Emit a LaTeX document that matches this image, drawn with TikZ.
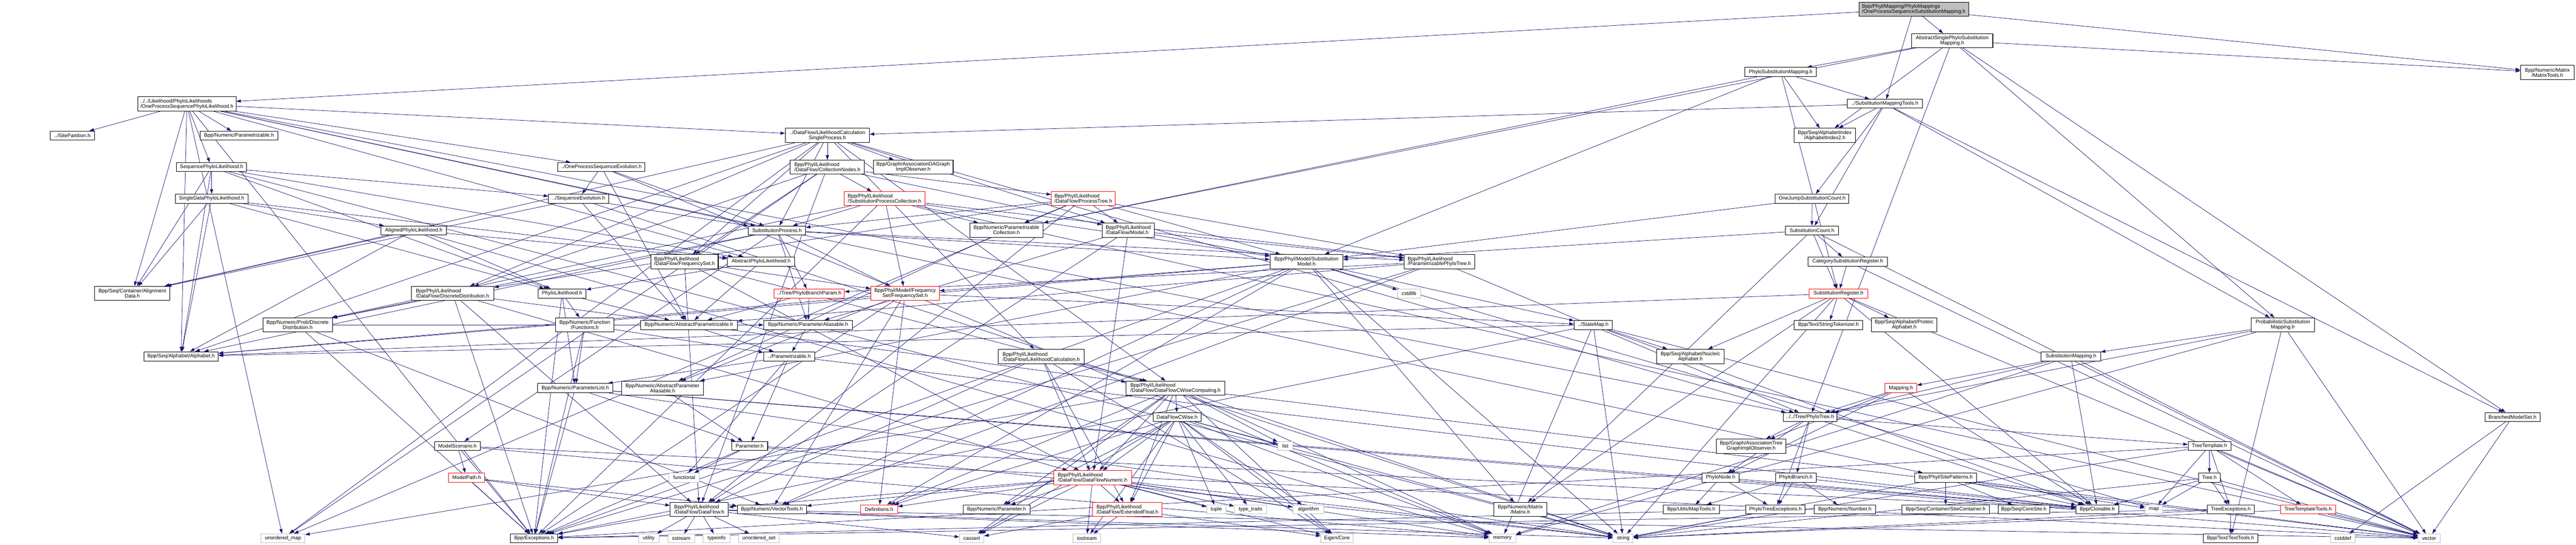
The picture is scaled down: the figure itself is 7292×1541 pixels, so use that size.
\documentclass[tikz,border=0pt]{standalone}
\usepackage{fontspec}
\setmainfont{Liberation Sans}
\usetikzlibrary{arrows.meta,backgrounds}
\definecolor{edgec}{RGB}{25,25,112}
\definecolor{grayc}{RGB}{191,191,191}
\definecolor{redc}{RGB}{255,0,0}
\newcommand{\nfont}{\fontsize{14.5}{14.5}\selectfont}
\newcommand{\bx}[7]{\node[#6,minimum width={(#4-#2)*1pt},minimum height={(#5-#3)*1pt}] (#1) at ({(#2+#4)/2},{(#3+#5)/2}) {#7};}
\tikzset{
  nb/.style={draw=black,line width=1.5pt,fill=white,inner sep=0pt,font=\nfont,align=center,text=black},
  nr/.style={nb,draw=redc},
  ng/.style={nb,draw=grayc},
  lal/.style={align=left},
  ed/.style={draw=edgec,line width=1.1pt,-{Triangle[length=13pt,width=9pt]}}
}
\begin{document}
\begin{tikzpicture}[x=1pt,y=-1pt]
\useasboundingbox (0,0) rectangle (7292,1541);
% rank 0-8
\bx{top}{5262}{6}{5573}{46}{nb,lal,fill=grayc}{Bpp/Phyl/Mapping/PhyloMappings\\/OneProcessSequenceSubstitutionMapping.h}
\bx{asm}{5411}{95}{5641}{135}{nb}{AbstractSinglePhyloSubstitution\\Mapping.h}
\bx{psm}{4939}{191}{5142}{217}{nb}{PhyloSubstitutionMapping.h}
\bx{mtools}{7135}{185}{7287}{225}{nb}{Bpp/Numeric/Matrix\\/MatrixTools.h}
\bx{opspl}{390}{274}{668}{314}{nb,lal}{../../Likelihood/PhyloLikelihoods\\/OneProcessSequencePhyloLikelihood.h}
\bx{smt}{5229}{281}{5442}{306}{nb}{../SubstitutionMappingTools.h}
\bx{sitepart}{142}{371}{268}{396}{nb}{../SitePartition.h}
\bx{nparam}{566}{371}{787}{396}{nb}{Bpp/Numeric/Parametrizable.h}
\bx{lcsp}{2223}{363}{2461}{403}{nb}{../DataFlow/LikelihoodCalculation\\SingleProcess.h}
\bx{ai2}{5079}{363}{5252}{403}{nb}{Bpp/Seq/AlphabetIndex\\/AlphabetIndex2.h}
\bx{spl}{500}{460}{698}{485}{nb}{SequencePhyloLikelihood.h}
\bx{opse}{1579}{460}{1825}{485}{nb}{../OneProcessSequenceEvolution.h}
\bx{colnodes}{2237}{453}{2447}{492}{nb,lal}{Bpp/Phyl/Likelihood\\/DataFlow/CollectionNodes.h}
\bx{adag}{2472}{453}{2698}{492}{nb}{Bpp/Graph/AssociationDAGraph\\ImplObserver.h}
\bx{sdpl}{496}{549}{702}{575}{nb}{SingleDataPhyloLikelihood.h}
\bx{seqevol}{1553}{549}{1723}{575}{nb}{../SequenceEvolution.h}
\bx{spc}{2389}{542}{2619}{581}{nr,lal}{Bpp/Phyl/Likelihood\\/SubstitutionProcessCollection.h}
\bx{ptree}{2976}{542}{3157}{581}{nr,lal}{Bpp/Phyl/Likelihood\\/DataFlow/ProcessTree.h}
\bx{ojsc}{5025}{549}{5234}{575}{nb}{OneJumpSubstitutionCount.h}
\bx{apl}{1079}{639}{1264}{664}{nb}{AlignedPhyloLikelihood.h}
\bx{sp}{2119}{639}{2280}{664}{nb}{SubstitutionProcess.h}
\bx{pcoll}{2745}{631}{2953}{671}{nb}{Bpp/Numeric/Parametrizable\\Collection.h}
\bx{dfmodel}{3120}{631}{3268}{671}{nb,lal}{Bpp/Phyl/Likelihood\\/DataFlow/Model.h}
\bx{sc}{5054}{639}{5204}{664}{nb}{SubstitutionCount.h}
\bx{dffreq}{1842}{720}{2033}{760}{nb,lal}{Bpp/Phyl/Likelihood\\/DataFlow/FrequencySet.h}
\bx{absl}{2059}{727}{2250}{753}{nb}{AbstractPhyloLikelihood.h}
\bx{smodel}{3595}{720}{3801}{760}{nb}{Bpp/Phyl/Model/Substitution\\Model.h}
\bx{ppt}{3975}{720}{4174}{760}{nb,lal}{Bpp/Phyl/Likelihood\\/ParametrizablePhyloTree.h}
\bx{csr}{5118}{727}{5343}{753}{nb}{CategorySubstitutionRegister.h}
% rank 9-12
\bx{aldata}{268}{810}{481}{850}{nb}{Bpp/Seq/Container/Alignment\\Data.h}
\bx{dfdd}{1164}{810}{1398}{850}{nb,lal}{Bpp/Phyl/Likelihood\\/DataFlow/DiscreteDistribution.h}
\bx{pl}{1523}{817}{1659}{843}{nb}{PhyloLikelihood.h}
\bx{pbp}{2191}{817}{2390}{843}{nr}{../Tree/PhyloBranchParam.h}
\bx{mfreq}{2465}{810}{2659}{850}{nr}{Bpp/Phyl/Model/Frequency\\Set/FrequencySet.h}
\bx{cstdlib}{3956}{817}{4021}{843}{ng}{cstdlib}
\bx{sreg}{5121}{817}{5287}{843}{nr}{SubstitutionRegister.h}
\bx{pdd}{744}{899}{941}{939}{nb}{Bpp/Numeric/Prob/Discrete\\Distribution.h}
\bx{funcs}{1573}{899}{1738}{939}{nb}{Bpp/Numeric/Function\\/Functions.h}
\bx{aparam}{1813}{906}{2087}{932}{nb}{Bpp/Numeric/AbstractParametrizable.h}
\bx{paliasable}{2162}{906}{2413}{932}{nb}{Bpp/Numeric/ParameterAliasable.h}
\bx{statemap}{4456}{906}{4564}{932}{nb}{../StateMap.h}
\bx{stok}{5079}{906}{5273}{932}{nb}{Bpp/Text/StringTokenizer.h}
\bx{proteic}{5297}{899}{5483}{939}{nb}{Bpp/Seq/Alphabet/Proteic\\Alphabet.h}
\bx{probsm}{6372}{899}{6552}{939}{nb}{ProbabilisticSubstitution\\Mapping.h}
\bx{alphabet}{407}{995}{618}{1021}{nb}{Bpp/Seq/Alphabet/Alphabet.h}
\bx{parametrizable}{2162}{995}{2306}{1021}{nb}{../Parametrizable.h}
\bx{lc}{2826}{988}{3069}{1029}{nb,lal}{Bpp/Phyl/Likelihood\\/DataFlow/LikelihoodCalculation.h}
\bx{nucleic}{4690}{988}{4880}{1029}{nb}{Bpp/Seq/Alphabet/Nucleic\\Alphabet.h}
\bx{smapping}{5778}{995}{5946}{1021}{nb}{SubstitutionMapping.h}
\bx{plist}{1522}{1085}{1735}{1111}{nb}{Bpp/Numeric/ParameterList.h}
\bx{apa}{1760}{1078}{1991}{1118}{nb}{Bpp/Numeric/AbstractParameter\\Aliasable.h}
\bx{dfcwc}{3188}{1078}{3467}{1118}{nb,lal}{Bpp/Phyl/Likelihood\\/DataFlow/DataFlowCWiseComputing.h}
\bx{mapping}{5336}{1085}{5426}{1111}{nr}{Mapping.h}
% rank 13-15
\bx{dfcw}{3264}{1167}{3400}{1192}{nb}{DataFlowCWise.h}
\bx{phylotree}{5048}{1167}{5200}{1192}{nb}{../../Tree/PhyloTree.h}
\bx{bms}{7034}{1167}{7190}{1192}{nb}{BranchedModelSet.h}
\bx{mscen}{1230}{1249}{1360}{1274}{nb}{ModelScenario.h}
\bx{parameter}{2071}{1249}{2173}{1274}{nb}{Parameter.h}
\bx{list}{3617}{1249}{3660}{1274}{ng}{list}
\bx{atgio}{4859}{1242}{5055}{1282}{nb}{Bpp/Graph/AssociationTree\\GraphImplObserver.h}
\bx{ttemplate}{6194}{1249}{6315}{1274}{nb}{TreeTemplate.h}
\bx{mpath}{1270}{1338}{1372}{1364}{nr}{ModelPath.h}
\bx{functional}{1894}{1338}{1980}{1364}{ng}{functional}
\bx{dfnum}{2983}{1331}{3203}{1371}{nr,lal}{Bpp/Phyl/Likelihood\\/DataFlow/DataFlowNumeric.h}
\bx{pnode}{4818}{1338}{4923}{1364}{nb}{PhyloNode.h}
\bx{pbranch}{5026}{1338}{5141}{1364}{nb}{PhyloBranch.h}
\bx{sitepat}{5420}{1338}{5595}{1364}{nb}{Bpp/Phyl/SitePatterns.h}
\bx{tree}{6223}{1338}{6285}{1364}{nb}{Tree.h}
% rank 16
\bx{dataflow}{1897}{1421}{2062}{1461}{nb,lal}{Bpp/Phyl/Likelihood\\/DataFlow/DataFlow.h}
\bx{vtools}{2087}{1428}{2283}{1453}{nb}{Bpp/Numeric/VectorTools.h}
\bx{defs}{2436}{1428}{2541}{1453}{nr}{Definitions.h}
\bx{nparameter}{2726}{1428}{2916}{1453}{nb}{Bpp/Numeric/Parameter.h}
\bx{extfloat}{3093}{1421}{3290}{1461}{nr,lal}{Bpp/Phyl/Likelihood\\/DataFlow/ExtendedFloat.h}
\bx{tuple}{3416}{1428}{3470}{1453}{ng}{tuple}
\bx{typetraits}{3494}{1428}{3586}{1453}{ng}{type\_traits}
\bx{algorithm}{3660}{1428}{3748}{1453}{ng}{algorithm}
\bx{matrix}{4228}{1421}{4379}{1461}{nb}{Bpp/Numeric/Matrix\\/Matrix.h}
\bx{maptools}{4708}{1428}{4867}{1453}{nb}{Bpp/Utils/MapTools.h}
\bx{pte}{4942}{1428}{5110}{1453}{nb}{PhyloTreeExceptions.h}
\bx{number}{5135}{1428}{5309}{1453}{nb}{Bpp/Numeric/Number.h}
\bx{sitecont}{5384}{1428}{5631}{1453}{nb}{Bpp/Seq/Container/SiteContainer.h}
\bx{coresite}{5656}{1428}{5802}{1453}{nb}{Bpp/Seq/CoreSite.h}
\bx{clonable}{5877}{1428}{5997}{1453}{nb}{Bpp/Clonable.h}
\bx{map}{6072}{1428}{6122}{1453}{ng}{map}
\bx{texc}{6248}{1428}{6381}{1453}{nb}{TreeExceptions.h}
\bx{ttt}{6456}{1428}{6611}{1453}{nr}{TreeTemplateTools.h}
% rank 17
\bx{umap}{739}{1510}{863}{1535}{ng}{unordered\_map}
\bx{exceptions}{1445}{1510}{1579}{1535}{nb}{Bpp/Exceptions.h}
\bx{utility}{1807}{1510}{1866}{1535}{ng}{utility}
\bx{sstream}{1891}{1510}{1966}{1535}{ng}{sstream}
\bx{typeinfo}{1990}{1510}{2067}{1535}{ng}{typeinfo}
\bx{uset}{2091}{1510}{2206}{1535}{ng}{unordered\_set}
\bx{cassert}{2716}{1510}{2785}{1535}{ng}{cassert}
\bx{iostream}{3037}{1510}{3116}{1535}{ng}{iostream}
\bx{eigen}{3739}{1510}{3830}{1535}{ng}{Eigen/Core}
\bx{memory}{4215}{1510}{4291}{1535}{ng}{memory}
\bx{string}{4566}{1510}{4623}{1535}{ng}{string}
\bx{ttools}{6237}{1510}{6391}{1535}{nb}{Bpp/Text/TextTools.h}
\bx{cstddef}{6597}{1510}{6667}{1535}{ng}{cstddef}
\bx{vector}{6845}{1510}{6907}{1535}{ng}{vector}
% edges
\begin{scope}[on background layer]
\fill[white] (0,0) rectangle (7292,1541);
\foreach \tg in {asm,smt,opspl,mtools} \draw[ed] (top) -- (\tg);
\foreach \tg in {psm,ai2,phylotree,pcoll,mtools,probsm,bms} \draw[ed] (asm) -- (\tg);
\foreach \tg in {smt,ai2,sreg,smodel,pcoll} \draw[ed] (psm) -- (\tg);
\foreach \tg in {lcsp,ai2,ojsc,sc,probsm,bms} \draw[ed] (smt) -- (\tg);
\foreach \tg in {sitepart,nparam,spl,lcsp,opse,phylotree,sp,aldata,alphabet,absl,sitepat,umap,exceptions} \draw[ed] (opspl) -- (\tg);
\foreach \tg in {sdpl,seqevol,absl,aldata,alphabet,pl,string} \draw[ed] (spl) -- (\tg);
\foreach \tg in {apl,aldata,alphabet,pl,absl} \draw[ed] (sdpl) -- (\tg);
\foreach \tg in {aldata,alphabet,pl,absl,memory} \draw[ed] (apl) -- (\tg);
\foreach \tg in {colnodes,adag,sp,dffreq,dfmodel,phylotree,aldata,alphabet,lc,dfcwc,dfdd,umap} \draw[ed] (lcsp) -- (\tg);
\foreach \tg in {spc,ptree,dfmodel,dffreq,dfdd,dataflow,umap} \draw[ed] (colnodes) -- (\tg);
\foreach \tg in {seqevol,sp,aparam,memory} \draw[ed] (opse) -- (\tg);
\foreach \tg in {sp,aparam,aldata,string} \draw[ed] (seqevol) -- (\tg);
\foreach \tg in {sp,pcoll,mfreq,pdd,smodel,ppt,exceptions,vector} \draw[ed] (spc) -- (\tg);
\foreach \tg in {pcoll,dfmodel,sp,smodel,ppt,dfdd,dataflow,umap} \draw[ed] (ptree) -- (\tg);
\foreach \tg in {apa} \draw[ed] (pcoll) -- (\tg);
\foreach \tg in {smodel,dataflow,dfnum,paliasable,ppt} \draw[ed] (dfmodel) -- (\tg);
\foreach \tg in {smodel,ppt,pdd,mfreq,pbp,alphabet,mscen,paliasable} \draw[ed] (sp) -- (\tg);
\foreach \tg in {smodel,sc} \draw[ed] (ojsc) -- (\tg);
\foreach \tg in {csr,sreg,smodel,vector,matrix} \draw[ed] (sc) -- (\tg);
\foreach \tg in {sreg,vector} \draw[ed] (csr) -- (\tg);
\foreach \tg in {mfreq,dataflow,dfnum,dfcwc} \draw[ed] (dffreq) -- (\tg);
\foreach \tg in {pl,aparam} \draw[ed] (absl) -- (\tg);
\foreach \tg in {mfreq,statemap,alphabet,matrix,vtools,apa,cstdlib,exceptions,defs,string,map} \draw[ed] (smodel) -- (\tg);
\foreach \tg in {pbp,phylotree,aparam,vtools,exceptions} \draw[ed] (ppt) -- (\tg);
\foreach \tg in {pdd,dataflow,dfnum,dfcwc,exceptions} \draw[ed] (dfdd) -- (\tg);
\foreach \tg in {funcs,plist,aparam,exceptions} \draw[ed] (pl) -- (\tg);
\foreach \tg in {aparam,paliasable} \draw[ed] (pbp) -- (\tg);
\foreach \tg in {statemap,alphabet,apa,vtools,defs,exceptions} \draw[ed] (mfreq) -- (\tg);
\foreach \tg in {stok,proteic,nucleic,alphabet,clonable,matrix,string,vector} \draw[ed] (sreg) -- (\tg);
\foreach \tg in {paliasable,vtools,exceptions} \draw[ed] (pdd) -- (\tg);
\foreach \tg in {parametrizable,plist,exceptions} \draw[ed] (funcs) -- (\tg);
\foreach \tg in {parametrizable} \draw[ed] (aparam) -- (\tg);
\foreach \tg in {parametrizable} \draw[ed] (paliasable) -- (\tg);
\foreach \tg in {nucleic,alphabet,string,vector,clonable,exceptions,memory} \draw[ed] (statemap) -- (\tg);
\foreach \tg in {smapping,ttools,vector,phylotree,memory} \draw[ed] (probsm) -- (\tg);
\foreach \tg in {plist,parameter,functional,clonable} \draw[ed] (parametrizable) -- (\tg);
\foreach \tg in {dataflow,dfnum,dfcwc,extfloat,eigen} \draw[ed] (lc) -- (\tg);
\foreach \tg in {mapping,clonable,phylotree,vector,memory} \draw[ed] (smapping) -- (\tg);
\foreach \tg in {parameter,clonable,string,vector,exceptions} \draw[ed] (plist) -- (\tg);
\foreach \tg in {parameter} \draw[ed] (apa) -- (\tg);
\foreach \tg in {dfcw,dfnum,list,extfloat,nparameter,defs,eigen,string,vector,memory,cassert,umap} \draw[ed] (dfcwc) -- (\tg);
\foreach \tg in {phylotree,atgio,pnode,clonable} \draw[ed] (mapping) -- (\tg);
\foreach \tg in {dfnum,extfloat,nparameter,defs,list,tuple,typetraits,algorithm,eigen,string,memory,cassert,iostream} \draw[ed] (dfcw) -- (\tg);
\foreach \tg in {atgio,pnode,pbranch,ttemplate,pte,clonable} \draw[ed] (phylotree) -- (\tg);
\foreach \tg in {vector,cstddef} \draw[ed] (bms) -- (\tg);
\foreach \tg in {mpath,exceptions,memory,vector} \draw[ed] (mscen) -- (\tg);
\foreach \tg in {functional,clonable,exceptions,string} \draw[ed] (parameter) -- (\tg);
\foreach \tg in {tree,texc,ttt,map,vector,string,exceptions} \draw[ed] (ttemplate) -- (\tg);
\foreach \tg in {exceptions,vtools,dataflow} \draw[ed] (mpath) -- (\tg);
\foreach \tg in {dataflow,vtools,extfloat,nparameter,defs,tuple,typetraits,algorithm,eigen,iostream,cassert,memory,string} \draw[ed] (dfnum) -- (\tg);
\foreach \tg in {maptools,pte,clonable} \draw[ed] (pnode) -- (\tg);
\foreach \tg in {pte,number,maptools,clonable} \draw[ed] (pbranch) -- (\tg);
\foreach \tg in {sitecont,coresite,clonable,map,vector,string} \draw[ed] (sitepat) -- (\tg);
\foreach \tg in {texc,map,string,vector,clonable} \draw[ed] (tree) -- (\tg);
\foreach \tg in {utility,sstream,typeinfo,uset,exceptions,memory,string,vector,cassert} \draw[ed] (dataflow) -- (\tg);
\foreach \tg in {iostream,cassert,eigen} \draw[ed] (extfloat) -- (\tg);
\foreach \tg in {ttools,exceptions,string} \draw[ed] (texc) -- (\tg);
\foreach \tg in {vector,string} \draw[ed] (ttt) -- (\tg);
\foreach \tg in {exceptions,string} \draw[ed] (pte) -- (\tg);
\end{scope}
\end{tikzpicture}
\end{document}
